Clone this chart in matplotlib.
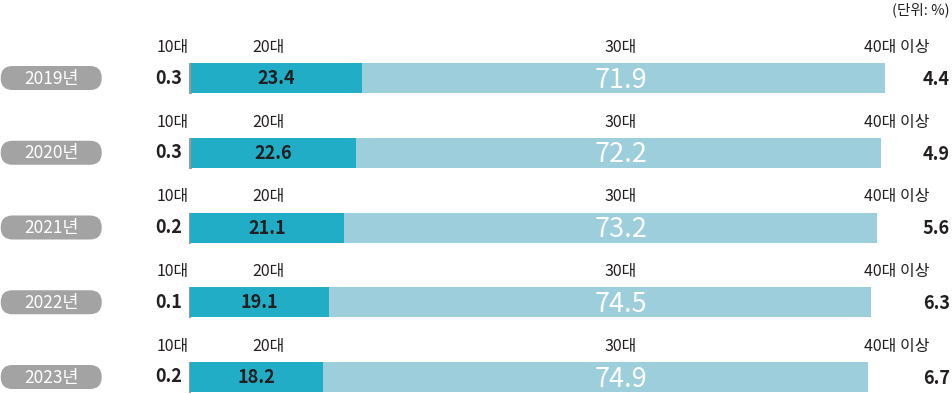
import numpy as np
import matplotlib
matplotlib.use('Agg')
from matplotlib import pyplot as plt
from matplotlib.patches import FancyBboxPatch

plt.rcParams['font.family'] = ['Noto Sans CJK KR', 'DejaVu Sans']

years = ['2019년', '2020년', '2021년', '2022년', '2023년']
groups = ['10대', '20대', '30대', '40대 이상']
teens = [0.3, 0.3, 0.2, 0.1, 0.2]
twenties = [23.4, 22.6, 21.1, 19.1, 18.2]
thirties = [71.9, 72.2, 73.2, 74.5, 74.9]
forties = [4.4, 4.9, 5.6, 6.3, 6.7]

c_teen = '#9a9a9a'
c_twen = '#22adc7'
c_thir = '#9dcedb'
c_pill = '#a3a3a3'
c_text = '#231f20'

W, H = 953, 394
fig = plt.figure(figsize=(W / 100, H / 100), dpi=100)
ax = fig.add_axes([0, 0, 1, 1])

# pixel mapping: 0% at x=189px, 100% at x=917px ; row i centred at 78 + 74.75*i px
pxu = (917 - 189) / 100.0
row_px = 74.75
x0 = -189 / pxu
ax.set_xlim(x0, x0 + W / pxu)
ax.set_ylim((H - 78) / row_px, -78 / row_px)
ax.axis('off')

y = np.arange(len(years))
teens_a = np.array(teens)
twen_a = np.array(twenties)
thir_a = np.array(thirties)
four_a = np.array(forties)

bh = 30 / row_px
ax.barh(y, teens_a, height=bh, color=c_teen, edgecolor=c_teen, linewidth=0.8)
ax.barh(y, twen_a, left=teens_a, height=bh, color=c_twen, linewidth=0)
ax.barh(y, thir_a, left=teens_a + twen_a, height=bh, color=c_thir, linewidth=0)
ax.barh(y, four_a, left=teens_a + twen_a + thir_a, height=bh, color='white', linewidth=0)

grp_x = [-2.3, 10.9, 59.3, 97.2]
for i in range(len(years)):
    # group labels above each bar
    for gx, g in zip(grp_x, groups):
        ax.text(gx, i - 0.41, g, ha='center', va='center', fontsize=11.5,
                fontweight='light', color=c_text)
    # values
    ax.text(-1.0, i, f'{teens[i]}', ha='right', va='center', fontsize=13,
            color=c_text, fontweight='bold')
    ax.text(teens[i] + twenties[i] / 2, i + 0.01, f'{twenties[i]}', ha='center',
            va='center', fontsize=13, color=c_text, fontweight='bold')
    ax.text(59.3, i + 0.03, f'{thirties[i]}', ha='center', va='center',
            fontsize=19.5, color='white')
    ax.text(104.5, i + 0.02, f'{forties[i]}', ha='right', va='center', fontsize=13,
            color=c_text, fontweight='bold')
    # year pill
    pw = 101 / pxu
    ph = 24 / row_px
    pill = FancyBboxPatch((x0 + 0.1, i - ph / 2), pw, ph,
                          boxstyle='round,pad=0,rounding_size=1.6',
                          mutation_aspect=pxu / row_px,
                          fc=c_pill, ec='none', clip_on=False)
    ax.add_patch(pill)
    ax.text(x0 + 0.1 + pw / 2, i + 0.01, years[i], ha='center', va='center',
            fontsize=12.5, color='white')

ax.text(x0 + 950 / pxu, -78 / row_px + 10 / row_px, '(단위: %)', ha='right',
        va='center', fontsize=10.5, fontweight='light', color=c_text)

fig.savefig('out.png', dpi=100)
